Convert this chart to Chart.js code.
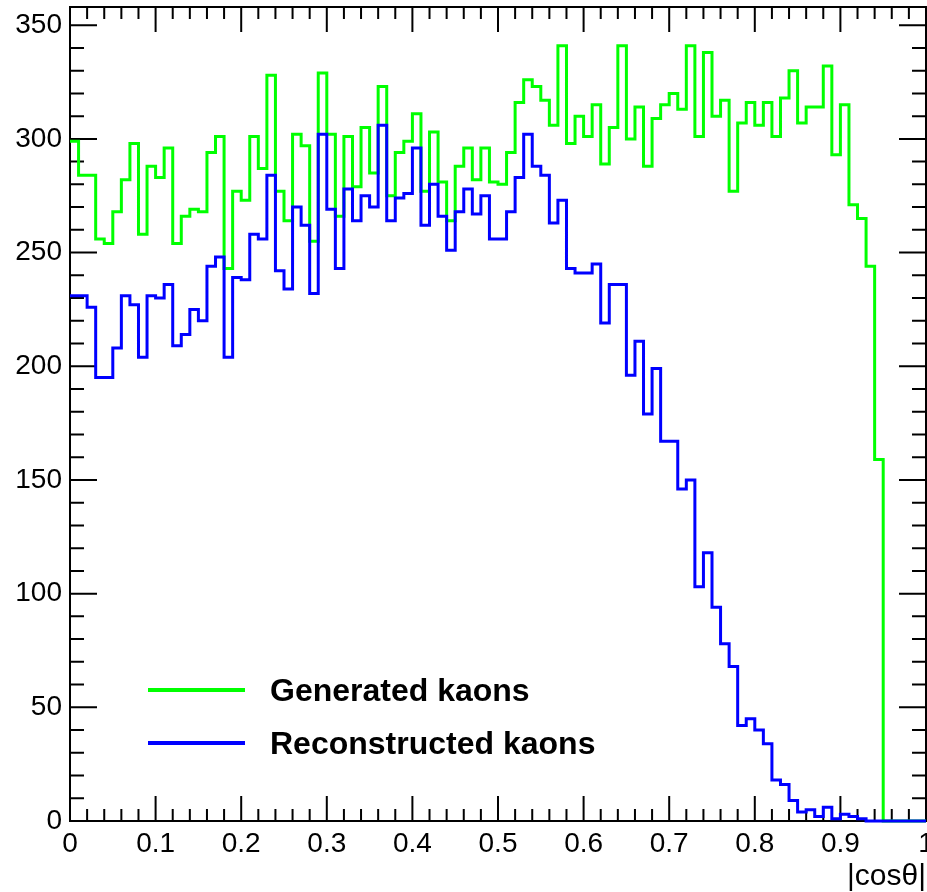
<!DOCTYPE html>
<html>
<head>
<meta charset="utf-8">
<script src="https://cdn.jsdelivr.net/npm/chart.js@4.4.1/dist/chart.umd.min.js"></script>
<style>
  html, body { margin: 0; padding: 0; background: #fff; }
  canvas { display: block; }
</style>
</head>
<body>
<canvas id="hist" width="927" height="892"></canvas>
<script>
// |cos theta| histogram, 100 bins from 0 to 1
const binLow = 0;
const binHigh = 1;

const generated = [
  299, 284, 284, 256, 254, 268, 282, 298, 258, 288,
  283, 296, 254, 266, 269, 268, 294, 301, 243, 277,
  273, 301, 287, 328, 277, 264, 302, 297, 255, 329,
  302, 266, 301, 279, 305, 285, 323, 275, 294, 299,
  311, 277, 303, 281, 264, 288, 296, 282, 296, 281,
  280, 294, 316, 326, 323, 317, 306, 341, 298, 310,
  301, 315, 289, 305, 341, 300, 314, 288, 309, 315,
  320, 313, 341, 301, 338, 310, 317, 277, 307, 316,
  306, 316, 301, 318, 330, 307, 314, 314, 332, 293,
  315, 271, 265, 244, 159, 0, 0, 0, 0, 0
];

const reconstructed = [
  231, 231, 226, 195, 195, 208, 231, 227, 204, 231,
  230, 236, 209, 214, 225, 220, 244, 248, 204, 239,
  238, 258, 256, 284, 242, 234, 270, 262, 232, 302,
  269, 243, 278, 264, 275, 270, 306, 264, 274, 276,
  296, 262, 280, 266, 251, 268, 278, 267, 275, 256,
  256, 268, 283, 302, 288, 284, 263, 273, 243, 241,
  241, 245, 219, 236, 236, 196, 211, 179, 199, 167,
  167, 146, 150, 103, 118, 94, 78, 68, 42, 45,
  40, 34, 18, 16, 9, 4, 5, 2, 6, 1,
  3, 2, 1, 0, 0, 0, 0, 0, 0, 0
];

const seriesLabels = ['Generated kaons', 'Reconstructed kaons'];
const seriesColors = ['#00ff00', '#0000ff'];
const xTicks = [0, 0.1, 0.2, 0.3, 0.4, 0.5, 0.6, 0.7, 0.8, 0.9, 1];
const yTicks = [0, 50, 100, 150, 200, 250, 300, 350];
const yMax = 358;

const FONT = '"Liberation Sans", Arial, Helvetica, sans-serif';

// step outline: lower edge of each bin, plus the closing upper edge
function toSteps(values) {
  const w = (binHigh - binLow) / values.length;
  const pts = values.map((v, i) => ({ x: binLow + i * w, y: v }));
  pts.push({ x: binHigh, y: values[values.length - 1] });
  return pts;
}

// ROOT style frame with inward ticks on all four sides
const framePlugin = {
  id: 'frame',
  beforeDatasetsDraw(chart) {
    const { ctx, chartArea: a, scales: { x, y } } = chart;
    ctx.save();
    ctx.strokeStyle = '#000';
    ctx.lineWidth = 2;
    ctx.strokeRect(a.left, a.top, a.right - a.left, a.bottom - a.top);
    ctx.beginPath();
    for (let i = 0; i <= 50; i++) {
      const px = x.getPixelForValue(i * 0.02);
      const len = i % 5 === 0 ? 25 : 12;
      ctx.moveTo(px, a.bottom); ctx.lineTo(px, a.bottom - len);
      ctx.moveTo(px, a.top); ctx.lineTo(px, a.top + len);
    }
    for (let v = 0; v <= yMax; v += 10) {
      const py = y.getPixelForValue(v);
      const len = v % 50 === 0 ? 27 : 14;
      ctx.moveTo(a.left, py); ctx.lineTo(a.left + len, py);
      ctx.moveTo(a.right, py); ctx.lineTo(a.right - len, py);
    }
    ctx.stroke();
    ctx.restore();
  }
};

// legend box inside the plot, lower left
const legendPlugin = {
  id: 'innerLegend',
  afterDatasetsDraw(chart) {
    const { ctx, chartArea: a } = chart;
    ctx.save();
    ctx.font = 'bold 32px ' + FONT;
    ctx.textBaseline = 'middle';
    ctx.textAlign = 'left';
    chart.data.datasets.forEach((ds, i) => {
      const yy = a.bottom - 131 + i * 53;
      ctx.strokeStyle = ds.borderColor;
      ctx.lineWidth = 4;
      ctx.beginPath();
      ctx.moveTo(a.left + 78, yy);
      ctx.lineTo(a.left + 175, yy);
      ctx.stroke();
      ctx.fillStyle = '#000';
      ctx.fillText(ds.label, a.left + 200, yy + 2);
    });
    ctx.restore();
  }
};

new Chart(document.getElementById('hist'), {
  type: 'line',
  data: {
    datasets: [
      {
        label: seriesLabels[0],
        data: toSteps(generated),
        borderColor: seriesColors[0],
        borderWidth: 3,
        stepped: 'before',
        pointRadius: 0,
        fill: false,
        clip: false,
        order: 1
      },
      {
        label: seriesLabels[1],
        data: toSteps(reconstructed),
        borderColor: seriesColors[1],
        borderWidth: 3,
        stepped: 'before',
        pointRadius: 0,
        fill: false,
        clip: false,
        order: 0
      }
    ]
  },
  options: {
    responsive: false,
    animation: false,
    devicePixelRatio: 1,
    layout: {
      autoPadding: false,
      padding: { top: 7, right: 1, left: 0, bottom: 0 }
    },
    plugins: {
      legend: { display: false },
      tooltip: { enabled: false }
    },
    scales: {
      x: {
        type: 'linear',
        min: binLow,
        max: binHigh,
        grid: { display: false, drawTicks: false },
        border: { display: false },
        afterBuildTicks: function(scale) {
          scale.ticks = xTicks.map(v => ({ value: v }));
        },
        ticks: {
          padding: 6,
          color: '#000',
          maxRotation: 0,
          autoSkip: false,
          font: { family: FONT, size: 28 },
          callback: function(value) {
            return String(Number(value.toFixed(1)));
          }
        },
        title: {
          display: true,
          text: '|cosθ|',
          align: 'end',
          color: '#000',
          font: { family: FONT, size: 30, lineHeight: 1 },
          padding: 0
        },
        afterFit: function(scale) {
          scale.height = 71;
          scale.paddingLeft = 0;
          scale.paddingRight = 0;
        }
      },
      y: {
        min: 0,
        max: yMax,
        grid: { display: false, drawTicks: false },
        border: { display: false },
        afterBuildTicks: function(scale) {
          scale.ticks = yTicks.map(v => ({ value: v }));
        },
        ticks: {
          padding: 8,
          color: '#000',
          font: { family: FONT, size: 28 }
        },
        afterFit: function(scale) {
          scale.width = 70;
          scale.paddingTop = 0;
          scale.paddingBottom = 0;
        }
      }
    }
  },
  plugins: [framePlugin, legendPlugin]
});
</script>
</body>
</html>
